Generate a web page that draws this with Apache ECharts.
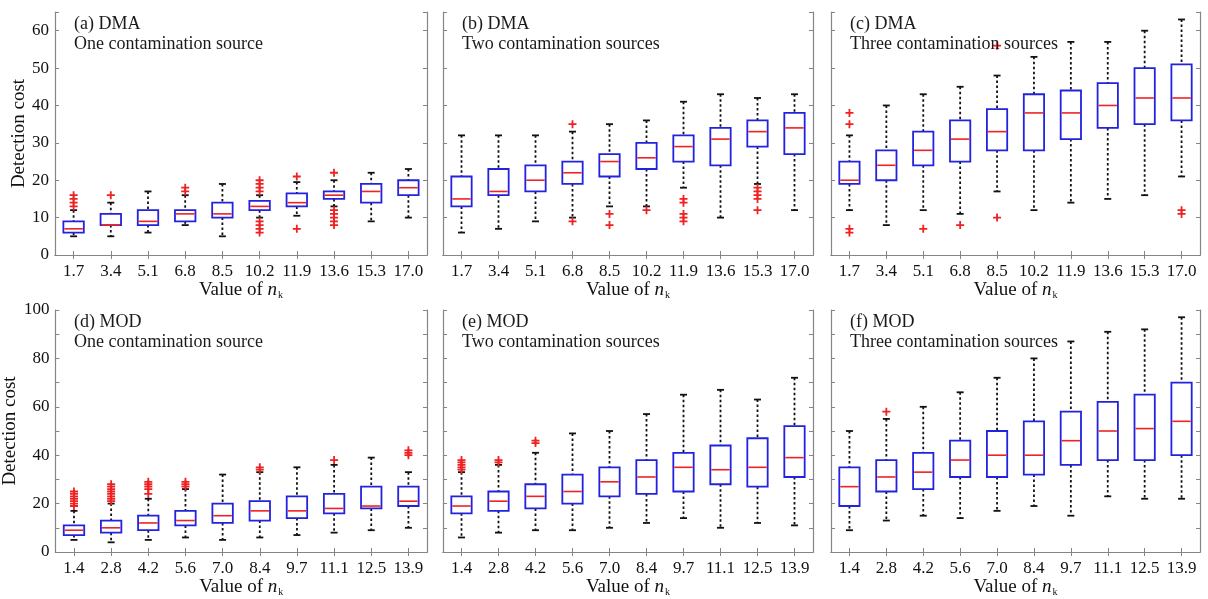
<!DOCTYPE html>
<html>
<head>
<meta charset="utf-8">
<script src="https://cdn.jsdelivr.net/npm/echarts@6/dist/echarts.min.js"></script>
<style>
  html, body { margin: 0; padding: 0; background: #fff; }
  #chart { width: 1208px; height: 599px; }
</style>
</head>
<body>
<div id="chart"></div>
<script>
// categories (value of n_k)
const catsDMA = ['1.7', '3.4', '5.1', '6.8', '8.5', '10.2', '11.9', '13.6', '15.3', '17.0'];
const catsMOD = ['1.4', '2.8', '4.2', '5.6', '7.0', '8.4', '9.7', '11.1', '12.5', '13.9'];

// each box: [lower whisker, Q1, median, Q3, upper whisker]
const boxA = [[5, 6, 7, 9, 12], [5, 8, 8, 11, 14], [6, 8, 9, 12, 17], [8, 9, 11, 12, 16], [5, 10, 11, 14, 19],
  [10, 12, 13, 14.5, 16], [10.5, 13, 14, 16.5, 19.5], [13, 15, 16, 17, 20], [9, 14, 17, 19, 22], [10, 16, 18, 20, 23]];
const boxB = [[6, 13, 15, 21, 32], [7, 16, 17, 23, 32], [9, 17, 20, 24, 32], [10, 19, 22, 25, 33], [13, 21, 25, 27, 35],
  [13, 23, 26, 30, 36], [18, 25, 29, 32, 41], [10, 24, 31, 34, 43], [19, 29, 33, 36, 42], [12, 27, 34, 38, 43]];
const boxC = [[12, 19, 20, 25, 32], [8, 20, 24, 28, 40], [12, 24, 28, 33, 43], [11, 25, 31, 36, 45], [17, 28, 33, 39, 48],
  [12, 28, 38, 43, 53], [14, 31, 38, 44, 57], [15, 34, 40, 46, 57], [16, 35, 42, 50, 60], [21, 36, 42, 51, 63]];
const boxD = [[5, 7, 9, 11, 17], [4, 8, 10, 13, 20], [5, 9, 12, 15, 22], [6, 11, 13, 17, 26], [5, 12, 15, 20, 32],
  [6, 13, 17, 21, 33], [7, 14, 17, 23, 35], [8, 16, 18, 24, 36], [9, 18, 19, 27, 39], [10, 19, 21, 27, 33]];
const boxE = [[6, 16, 19, 23, 33], [8, 17, 21, 25, 36], [9, 18, 23, 28, 41], [9, 20, 25, 32, 49], [10, 23, 29, 35, 50],
  [12, 24, 31, 38, 57], [14, 25, 35, 41, 65], [10, 28, 34, 44, 67], [12, 27, 35, 47, 63], [11, 31, 39, 52, 72]];
const boxF = [[9, 19, 27, 35, 50], [13, 25, 31, 38, 55], [15, 26, 33, 41, 60], [14, 31, 38, 46, 66], [17, 31, 40, 50, 72],
  [19, 32, 40, 54, 80], [15, 36, 46, 58, 87], [23, 38, 50, 62, 91], [22, 38, 51, 65, 92], [22, 40, 54, 70, 97]];

// outliers: [category index, value]
const outA = [[0, 13], [0, 14], [0, 15], [0, 16], [1, 16], [3, 17], [3, 18],
  [5, 17], [5, 18], [5, 19], [5, 20], [5, 6], [5, 7], [5, 8], [5, 9],
  [6, 21], [6, 7], [7, 22], [7, 8], [7, 9], [7, 10], [7, 11], [7, 12]];
const outB = [[3, 35], [3, 9], [4, 11], [4, 8], [5, 12], [6, 15], [6, 14], [6, 11], [6, 10], [6, 9],
  [8, 18], [8, 17], [8, 16], [8, 15], [8, 12]];
const outC = [[0, 35], [0, 38], [0, 7], [0, 6], [2, 7], [3, 8], [4, 56], [4, 10], [9, 11], [9, 12]];
const outD = [[0, 19], [0, 20], [0, 21], [0, 22], [0, 23], [0, 24], [0, 25],
  [1, 21], [1, 22], [1, 23], [1, 24], [1, 25], [1, 26], [1, 27], [1, 28],
  [2, 24], [2, 26], [2, 27], [2, 28], [2, 29], [3, 27], [3, 28], [3, 29],
  [5, 34], [5, 35], [7, 38], [9, 40], [9, 41], [9, 42]];
const outE = [[0, 34], [0, 35], [0, 36], [0, 37], [0, 38], [1, 37], [1, 38], [2, 45], [2, 46]];
const outF = [[1, 58]];

// y-axis ranges
const yMaxDMA = 65;
const yMaxMOD = 100;

const panelTitles = [
  '(a) DMA\nOne contamination source',
  '(b) DMA\nTwo contamination sources',
  '(c) DMA\nThree contamination sources',
  '(d) MOD\nOne contamination source',
  '(e) MOD\nTwo contamination sources',
  '(f) MOD\nThree contamination sources'
];

const panels = [
  { box: boxA, out: outA, cats: catsDMA, max: yMaxDMA },
  { box: boxB, out: outB, cats: catsDMA, max: yMaxDMA },
  { box: boxC, out: outC, cats: catsDMA, max: yMaxDMA },
  { box: boxD, out: outD, cats: catsMOD, max: yMaxMOD },
  { box: boxE, out: outE, cats: catsMOD, max: yMaxMOD },
  { box: boxF, out: outF, cats: catsMOD, max: yMaxMOD }
];

const layout = [
  { left: 55, top: 12, width: 372, height: 243 },
  { left: 443, top: 12, width: 370, height: 243 },
  { left: 831, top: 12, width: 369, height: 243 },
  { left: 55, top: 310, width: 372, height: 242 },
  { left: 443, top: 310, width: 370, height: 242 },
  { left: 831, top: 310, width: 369, height: 242 }
];

const FONT = 'Liberation Serif';
const FRAME = '#858585';
const BLUE = '#2222e0';
const RED = '#ee2222';

function renderBox(params, api) {
  const x = api.value(0);
  const lo = api.coord([x, api.value(1)]);
  const q1 = api.coord([x, api.value(2)]);
  const md = api.coord([x, api.value(3)]);
  const q3 = api.coord([x, api.value(4)]);
  const hi = api.coord([x, api.value(5)]);
  const bw = api.size([1, 0])[0] * 0.55;
  const cx = lo[0];
  const half = bw / 2;
  const cap = 3.5;
  const dash = { stroke: '#111', lineWidth: 1.8, lineDash: [2.5, 2.5] };
  const solid = { stroke: '#111', lineWidth: 1.8 };
  return {
    type: 'group',
    children: [
      { type: 'line', shape: { x1: cx, y1: hi[1], x2: cx, y2: q3[1] }, style: dash },
      { type: 'line', shape: { x1: cx, y1: q1[1], x2: cx, y2: lo[1] }, style: dash },
      { type: 'line', shape: { x1: cx - cap, y1: hi[1], x2: cx + cap, y2: hi[1] }, style: solid },
      { type: 'line', shape: { x1: cx - cap, y1: lo[1], x2: cx + cap, y2: lo[1] }, style: solid },
      { type: 'rect', shape: { x: cx - half, y: q3[1], width: bw, height: q1[1] - q3[1] },
        style: { fill: '#fff', stroke: BLUE, lineWidth: 1.8 } },
      { type: 'line', shape: { x1: cx - half + 1, y1: md[1], x2: cx + half - 1, y2: md[1] },
        style: { stroke: RED, lineWidth: 1.6 } }
    ]
  };
}

const grid = [], xAxis = [], yAxis = [], series = [], title = [];

panels.forEach((p, i) => {
  const g = layout[i];
  const bottomRow = i >= 3;
  const firstCol = i % 3 === 0;
  grid.push({ left: g.left, top: g.top, width: g.width, height: g.height, show: false });

  // title has 5px padding by default
  title.push({
    text: panelTitles[i],
    left: g.left + 14,
    top: g.top - 3,
    textStyle: { fontFamily: FONT, fontSize: 18, fontWeight: 'normal', color: '#1a1a1a', lineHeight: 20 }
  });

  const tick = { show: true, inside: true, length: 4, alignWithLabel: true, lineStyle: { color: FRAME } };
  const line = { show: true, lineStyle: { color: FRAME, width: 1.2 } };

  // bottom x axis
  xAxis.push({
    type: 'category', gridIndex: i, data: p.cats, position: 'bottom',
    axisLine: line, axisTick: tick,
    axisLabel: { fontFamily: FONT, fontSize: 17, color: '#111', margin: 8, interval: 0 },
    name: 'Value of {i|n}{s|k}', nameLocation: 'middle', nameGap: 24,
    nameTextStyle: {
      fontFamily: FONT, fontSize: 19, color: '#111',
      rich: {
        i: { fontFamily: FONT, fontSize: 19, fontStyle: 'italic', color: '#111' },
        s: { fontFamily: FONT, fontSize: 10, color: '#111', verticalAlign: 'bottom', padding: [9, 0, 0, 1] }
      }
    }
  });
  // top x axis (frame + ticks only)
  xAxis.push({
    type: 'category', gridIndex: i, data: p.cats, position: 'top',
    axisLine: line, axisTick: tick, axisLabel: { show: false }
  });

  const yTick = { show: true, inside: true, length: 4, lineStyle: { color: FRAME } };
  // left y axis
  yAxis.push({
    type: 'value', gridIndex: i, min: 0, max: p.max, interval: 10, position: 'left',
    axisLine: line, axisTick: yTick, splitLine: { show: false },
    axisLabel: {
      show: firstCol, fontFamily: FONT, fontSize: 17, color: '#111', margin: 6,
      formatter: v => (bottomRow ? (v % 20 === 0 ? v : '') : (v <= 60 ? v : ''))
    },
    name: firstCol ? 'Detection cost' : '', nameLocation: 'middle', nameGap: 25,
    nameTextStyle: { fontFamily: FONT, fontSize: 19, color: '#111' }
  });
  // right y axis (frame + ticks only)
  yAxis.push({
    type: 'value', gridIndex: i, min: 0, max: p.max, interval: 10, position: 'right',
    axisLine: line, axisTick: yTick, splitLine: { show: false }, axisLabel: { show: false }
  });

  series.push({
    type: 'custom',
    xAxisIndex: i * 2, yAxisIndex: i * 2,
    renderItem: renderBox,
    encode: { x: 0, y: [1, 2, 3, 4, 5] },
    data: p.box.map((b, k) => [k].concat(b)),
    silent: true
  });
  series.push({
    type: 'scatter',
    xAxisIndex: i * 2, yAxisIndex: i * 2,
    symbol: 'path://M-0.9,-4H0.9V-0.9H4V0.9H0.9V4H-0.9V0.9H-4V-0.9H-0.9Z',
    symbolSize: 8,
    itemStyle: { color: RED, opacity: 1 },
    data: p.out,
    z: 5,
    silent: true
  });
});

const chart = echarts.init(document.getElementById('chart'));
chart.setOption({
  animation: false,
  backgroundColor: '#fff',
  title: title,
  grid: grid,
  xAxis: xAxis,
  yAxis: yAxis,
  series: series
});
</script>
</body>
</html>
